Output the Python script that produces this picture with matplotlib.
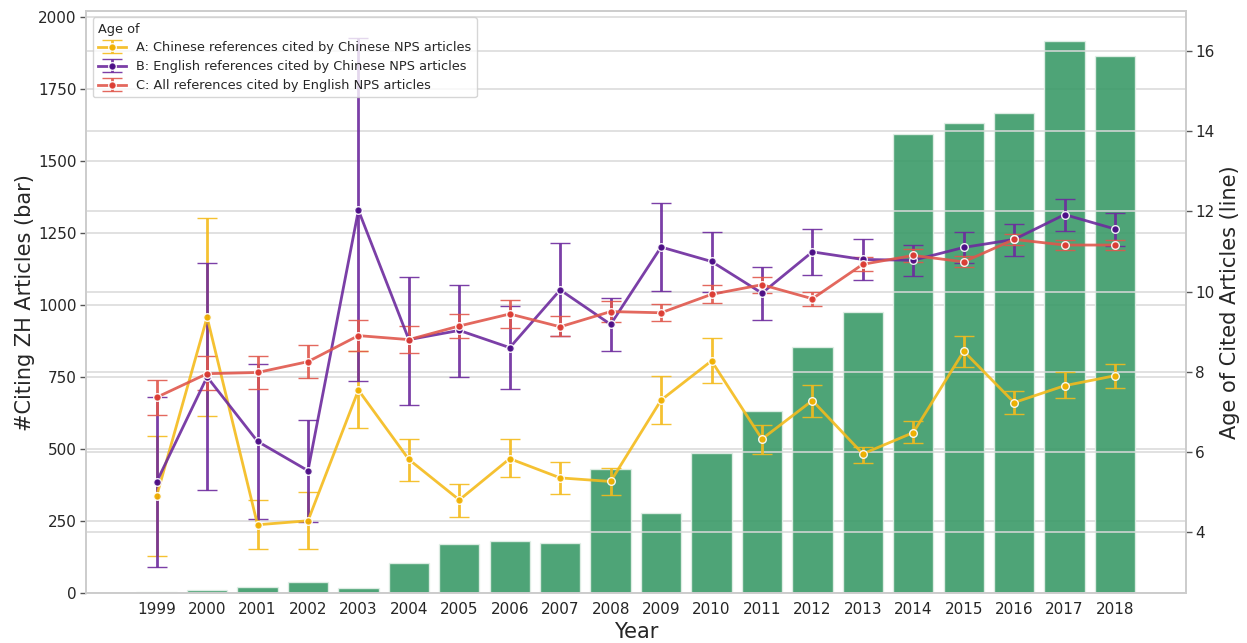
import numpy as np
import matplotlib
matplotlib.use("Agg")
import matplotlib.pyplot as plt

# citing-article counts per year (bars) and mean age of cited articles (lines)
years = [str(y) for y in range(1999, 2019)]
n_citing = [4, 12, 23, 40, 20, 106, 172, 183, 176, 431, 280, 485, 631, 853, 977,
            1594, 1633, 1667, 1917, 1863]

# A: Chinese refs cited by Chinese NPS articles
age_a = [4.90, 9.36, 4.18, 4.28, 7.54, 5.81, 4.80, 5.83, 5.35, 5.26,
         7.29, 8.27, 6.32, 7.28, 5.95, 6.48, 8.51, 7.23, 7.65, 7.90]
age_a_lo = [3.41, 6.89, 3.57, 3.57, 6.59, 5.28, 4.37, 5.36, 4.96, 4.93,
            6.70, 7.72, 5.94, 6.88, 5.73, 6.22, 8.11, 6.95, 7.34, 7.60]
age_a_hi = [6.40, 11.84, 4.80, 4.99, 8.51, 6.33, 5.19, 6.32, 5.74, 5.59,
            7.88, 8.84, 6.68, 7.68, 6.12, 6.76, 8.90, 7.52, 7.98, 8.20]

# B: English refs cited by Chinese NPS articles
age_b = [5.25, 7.87, 6.26, 5.53, 12.03, 8.80, 9.03, 8.60, 10.04, 9.18,
         11.11, 10.75, 9.96, 10.99, 10.80, 10.78, 11.10, 11.30, 11.92, 11.56]
age_b_lo = [3.13, 5.04, 4.32, 4.26, 7.76, 7.18, 7.87, 7.57, 8.90, 8.51,
            10.02, 10.00, 9.29, 10.42, 10.30, 10.38, 10.71, 10.88, 11.51, 11.14]
age_b_hi = [7.36, 10.70, 8.19, 6.79, 16.32, 10.36, 10.17, 9.63, 11.20, 9.84,
            12.22, 11.48, 10.62, 11.55, 11.32, 11.16, 11.49, 11.69, 12.32, 11.97]

# C: all refs cited by English NPS articles
age_c = [7.36, 7.95, 7.98, 8.25, 8.90, 8.80, 9.14, 9.44, 9.12, 9.50,
         9.47, 9.93, 10.17, 9.82, 10.68, 10.90, 10.74, 11.30, 11.16, 11.16]
age_c_lo = [6.91, 7.54, 7.57, 7.83, 8.51, 8.46, 8.83, 9.10, 8.88, 9.25,
            9.26, 9.71, 9.97, 9.63, 10.51, 10.74, 10.60, 11.16, 11.03, 11.03]
age_c_hi = [7.80, 8.38, 8.38, 8.66, 9.28, 9.14, 9.44, 9.80, 9.38, 9.77,
            9.68, 10.16, 10.37, 9.99, 10.85, 11.06, 10.88, 11.43, 11.28, 11.28]

labels = ['A: Chinese references cited by Chinese NPS articles',
          'B: English references cited by Chinese NPS articles',
          'C: All references cited by English NPS articles']

plt.rcParams['font.family'] = 'DejaVu Sans'
plt.rcParams['text.color'] = '#262626'
plt.rcParams['axes.labelcolor'] = '#262626'
plt.rcParams['xtick.color'] = '#262626'
plt.rcParams['ytick.color'] = '#262626'

fig = plt.figure(figsize=(12.47, 6.43), dpi=100)
ax = fig.add_axes([0.069, 0.0773, 0.8818, 0.9056])
x = np.arange(len(years))

ax.set_axisbelow(True)
ax.bar(x, n_citing, width=0.8, color='#3b9a68', alpha=0.9,
       edgecolor='#e3f0e8', linewidth=1)
ax.set_xlim(-1.4, 20.4)
ax.set_ylim(0, 2020)
ax.set_yticks([0, 250, 500, 750, 1000, 1250, 1500, 1750, 2000])
ax.set_xticks(x)
ax.set_xticklabels(years)
ax.grid(axis='y', color='#d9d9d9', linewidth=1.1)
ax.grid(axis='x', visible=False)
ax.set_xlabel('Year', fontsize=15, labelpad=4)
ax.set_ylabel('#Citing ZH Articles (bar)', fontsize=15, labelpad=2)
ax.tick_params(axis='y', labelsize=11, length=4, width=1, color='#555555', pad=3)
ax.tick_params(axis='x', labelsize=11, length=0, pad=6)
for sp in ax.spines.values():
    sp.set_color('#cccccc')
    sp.set_linewidth(1.2)

ax2 = ax.twinx()
series = [
    (age_a, age_a_lo, age_a_hi, '#f4bb1c', '#f0b000'),
    (age_b, age_b_lo, age_b_hi, '#6d2a9e', '#4a0c85'),
    (age_c, age_c_lo, age_c_hi, '#e0574c', '#dc3b32'),
]
for (m, lo, hi, c, mc), lab in zip(series, labels):
    m = np.array(m)
    yerr = [m - np.array(lo), np.array(hi) - m]
    ax2.errorbar(x, m, yerr=yerr, color=c, lw=2, elinewidth=2, capsize=7.5,
                 capthick=2, alpha=0.9, marker='o', ms=5.5, mfc=mc,
                 mec='white', mew=1, label=lab)

ax2.set_ylim(2.47, 17.0)
ax2.set_yticks([4, 6, 8, 10, 12, 14, 16])
ax2.grid(axis='y', color='#d9d9d9', linewidth=1.1)
ax2.set_ylabel('Age of Cited Articles (line)', fontsize=15, labelpad=4)
ax2.tick_params(axis='y', labelsize=11, length=4, width=1, color='#555555', pad=3)
for sp in ax2.spines.values():
    sp.set_color('#cccccc')
    sp.set_linewidth(1.2)

leg = ax2.legend(loc='upper left', title='Age of', fontsize=9.3, title_fontsize=9.3,
                 frameon=True, borderaxespad=0.5, handlelength=2.2,
                 labelspacing=0.45, borderpad=0.4, fancybox=True)
leg._legend_box.align = 'left'
leg.get_frame().set_edgecolor('#cccccc')

fig.savefig('out.png', dpi=100)
